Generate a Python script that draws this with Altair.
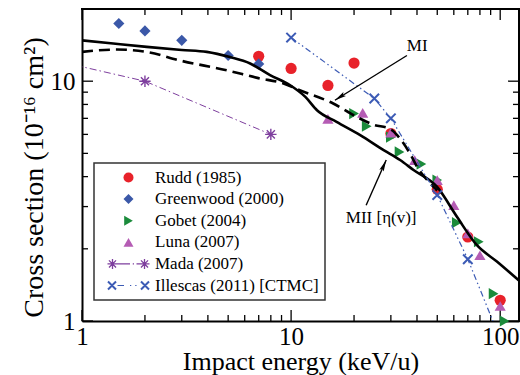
import math
import altair as alt
import pandas as pd

# ---------------- measured cross sections (energy in keV/u, sigma in 1e-16 cm^2)
rudd_e = [7, 10, 15, 20, 30, 50, 70, 100]
rudd_s = [12.7, 11.3, 9.6, 11.9, 6.05, 3.54, 2.24, 1.22]

greenwood_e = [1.5, 2, 3, 5, 7]
greenwood_s = [17.4, 16.2, 14.8, 12.8, 11.8]

gobet_e = [20, 23, 30, 33, 42, 50, 62, 79, 93, 105]
gobet_s = [7.33, 6.49, 5.84, 5.07, 4.51, 3.87, 2.57, 2.14, 1.30, 1.0]

luna_e = [15, 22, 30, 39, 50, 60, 70, 80, 100]
luna_s = [6.96, 7.38, 6.1, 4.69, 3.87, 3.04, 2.32, 1.88, 1.155]

mada_e = [0.5, 2, 8]
mada_s = [13.2, 10.0, 6.0]

illescas_e = [10, 25, 30, 50, 70, 100]
illescas_s = [15.2, 8.47, 7.0, 3.35, 1.81, 0.84]

# ---------------- model curves
mi_e = [1, 1.47, 2.04, 2.94, 4.93, 6.97, 9.2, 11.0, 15.9, 20.6, 24.6, 30, 33, 37, 40, 45, 50]
mi_s = [13.25, 13.55, 13.25, 12.2, 11.1, 10.3, 9.78, 9.17, 8.07, 7.1, 6.6, 6.3, 5.8, 5.0, 4.4, 3.85, 3.5]

mii_e = [1, 1.41, 2.04, 3.0, 3.95, 5.1, 6.37, 7.93, 9.9, 11.7, 13.3, 16.5, 21.4,
         27.7, 33.2, 38.5, 49.8, 62.1, 77.4, 96.4, 124.6]
mii_s = [14.8, 14.35, 13.9, 13.5, 13.25, 12.6, 11.85, 10.6, 9.62, 8.6, 7.57, 6.77, 5.96,
         5.16, 4.69, 4.26, 3.63, 2.72, 2.07, 1.77, 1.46]

# ---------------- legend entries
series_names = ["Rudd (1985)", "Greenwood (2000)", "Gobet (2004)", "Luna (2007)",
                "Mada (2007)", "Illescas (2011) [CTMC]"]
series_colors = ["#e8222a", "#3b58a8", "#1b8b3b", "#b55cb4", "#7e3f9e", "#3c5bb5"]

# ---------------- annotations
labels_text = ["MI", "MII [\u03b7(v)]"]
labels_e = [40.1, 26.96]
labels_s = [14.0, 2.69]
arrow_tail_e = [35.8, 22.85]
arrow_tail_s = [12.8, 3.04]
arrow_head_e = [16.2, 28.5]
arrow_head_s = [8.33, 4.69]

# ---------------- axis tick positions
x_major = [1, 10, 100]
x_minor = [2, 3, 4, 5, 6, 7, 8, 9, 20, 30, 40, 50, 60, 70, 80, 90]
y_major = [1, 10]
y_minor = [2, 3, 4, 5, 6, 7, 8, 9]

SERIF = "Liberation Serif"
W, H = 437, 312
MAJ, MIN = 11, 6
X_DOMAIN = [1, 123]
Y_DOMAIN = [1, 20]


def bar_poly(x0, y0, x1, y1, w):
    dx, dy = x1 - x0, y1 - y0
    n = math.hypot(dx, dy)
    px, py = -dy / n * w, dx / n * w
    pts = [(x0 + px, y0 + py), (x1 + px, y1 + py), (x1 - px, y1 - py), (x0 - px, y0 - py)]
    return "M" + "L".join(f"{a:.3f},{b:.3f}" for a, b in pts) + "Z"


def star_bars(cx, r, w):
    out = ""
    for k in range(4):
        a = math.pi * k / 4
        dx, dy = r * math.cos(a), r * math.sin(a)
        out += bar_poly(cx - dx, -dy, cx + dx, dy, w)
    return out


def cross_bars(cx, r, w):
    return bar_poly(cx - r, -r, cx + r, r, w) + bar_poly(cx - r, r, cx + r, -r, w)


# legend glyphs: marker - line - marker, built from filled thin bars
mada_glyph = (star_bars(-3.2, 1.0, 0.13) + star_bars(3.2, 1.0, 0.13)
              + bar_poly(-2.2, 0, 0.3, 0, 0.11) + bar_poly(0.85, 0, 1.1, 0, 0.11)
              + bar_poly(1.6, 0, 2.2, 0, 0.11))
illescas_glyph = (cross_bars(-3.3, 0.8, 0.2) + cross_bars(3.3, 0.8, 0.2)
                  + bar_poly(-2.2, 0, -0.9, 0, 0.12) + bar_poly(0.3, 0, 0.55, 0, 0.12)
                  + bar_poly(1.35, 0, 1.6, 0, 0.12))
series_shapes = ["circle", "diamond", "triangle-right", "triangle-up", mada_glyph, illescas_glyph]

STAR = "M-1,0L1,0M0,-1L0,1M-0.707,-0.707L0.707,0.707M-0.707,0.707L0.707,-0.707"
XMARK = "M-1,-1L1,1M-1,1L1,-1"
ARROWHEAD = "M0,0L0.45,2.2L0,1.8L-0.45,2.2Z"

xs = alt.Scale(type="log", domain=X_DOMAIN, nice=False)
ys = alt.Scale(type="log", domain=Y_DOMAIN, nice=False)

x_axis = alt.Axis(values=x_major, format="d", ticks=False, grid=False,
                  domain=True, domainColor="black", domainWidth=2,
                  labelFont=SERIF, labelFontSize=25, labelColor="black", labelPadding=3,
                  labelFlush=False, labelOverlap=False,
                  title="Impact energy (keV/u)", titleFont=SERIF, titleFontSize=26,
                  titleFontWeight="normal", titleColor="black",
                  titleX=W / 2, titleY=48.5, titleBaseline="alphabetic", titleAlign="center")
y_axis = alt.Axis(values=y_major, format="d", ticks=False, grid=False,
                  domain=True, domainColor="black", domainWidth=2,
                  labelFont=SERIF, labelFontSize=25, labelColor="black", labelPadding=7,
                  labelFlush=False, labelOverlap=False,
                  title="Cross section  (10\u207b\u00b9\u2076 cm\u00b2)", titleFont=SERIF,
                  titleFontSize=28, titleFontWeight="normal", titleColor="black",
                  titleX=-40, titleY=168, titleAngle=270, titleBaseline="alphabetic",
                  titleAlign="center")


def X(field):
    return alt.X(field, type="quantitative", scale=xs, axis=x_axis)


def Y(field):
    return alt.Y(field, type="quantitative", scale=ys, axis=y_axis)


def frame(e, s, name):
    return pd.DataFrame({"e": e, "s": s, "series": name})


points = pd.concat([
    frame(rudd_e, rudd_s, series_names[0]),
    frame(greenwood_e, greenwood_s, series_names[1]),
    frame(gobet_e, gobet_s, series_names[2]),
    frame(luna_e, luna_s, series_names[3]),
], ignore_index=True)

legend = alt.Legend(orient="none", legendX=12, legendY=154, title=None,
                    labelFont=SERIF, labelFontSize=17, labelColor="black", labelLimit=400,
                    symbolSize=100, symbolOffset=20, labelOffset=18, padding=6,
                    rowPadding=3.6, strokeColor="#333333", fillColor="white",
                    symbolStrokeWidth=0)

point_layer = alt.Chart(points).mark_point(filled=True, size=125, opacity=1).encode(
    x=X("e"), y=Y("s"),
    color=alt.Color("series:N", scale=alt.Scale(domain=series_names, range=series_colors),
                    legend=legend),
    shape=alt.Shape("series:N", scale=alt.Scale(domain=series_names, range=series_shapes),
                    legend=legend),
)

mii_layer = alt.Chart(pd.DataFrame({"e": mii_e, "s": mii_s})).mark_line(
    color="black", strokeWidth=2.6, interpolate="monotone", clip=True
).encode(x=X("e"), y=Y("s"))
mi_layer = alt.Chart(pd.DataFrame({"e": mi_e, "s": mi_s})).mark_line(
    color="black", strokeWidth=2.6, strokeDash=[11, 6], interpolate="monotone", clip=True
).encode(x=X("e"), y=Y("s"))

mada_df = pd.DataFrame({"e": mada_e, "s": mada_s})
mada_line = alt.Chart(mada_df).mark_line(
    color=series_colors[4], strokeWidth=1, strokeDash=[7, 3, 1.5, 3], clip=True
).encode(x=X("e"), y=Y("s"))
mada_pts = alt.Chart(mada_df).mark_point(
    shape=STAR, size=130, filled=False, color=series_colors[4], strokeWidth=1.4,
    opacity=1, clip=True).encode(x=X("e"), y=Y("s"))

ill_df = pd.DataFrame({"e": illescas_e, "s": illescas_s})
ill_line = alt.Chart(ill_df).mark_line(
    color=series_colors[5], strokeWidth=1.2, strokeDash=[6, 3, 1.5, 3, 1.5, 3], clip=True
).encode(x=X("e"), y=Y("s"))
ill_pts = alt.Chart(ill_df).mark_point(
    shape=XMARK, size=90, filled=False, color=series_colors[5], strokeWidth=2,
    opacity=1, clip=True).encode(x=X("e"), y=Y("s"))

arrows = pd.DataFrame({"e": arrow_tail_e, "s": arrow_tail_s,
                       "e2": arrow_head_e, "s2": arrow_head_s})
arrow_shafts = alt.Chart(arrows).mark_rule(color="black", strokeWidth=1.4).encode(
    x=X("e"), y=Y("s"), x2="e2", y2="s2")
heads = []
for i, ang in enumerate([238, 24]):
    heads.append(alt.Chart(pd.DataFrame({"e": [arrow_head_e[i]], "s": [arrow_head_s[i]]}))
                 .mark_point(shape=ARROWHEAD, size=110, filled=True, color="black",
                             opacity=1, angle=ang)
                 .encode(x=X("e"), y=Y("s")))

texts = alt.Chart(pd.DataFrame({"e": labels_e, "s": labels_s, "t": labels_text})).mark_text(
    font=SERIF, fontSize=17, color="black", align="center", baseline="middle"
).encode(x=X("e"), y=Y("s"), text="t:N")

# inward ticks on all four sides
tick_layers = []
for vals, L in [(x_major, MAJ), (x_minor, MIN)]:
    d = pd.DataFrame({"v": vals})
    tick_layers.append(alt.Chart(d).mark_rule(color="black", strokeWidth=1.3).encode(
        x=X("v"), y=alt.value(H), y2=alt.value(H - L)))
    tick_layers.append(alt.Chart(d).mark_rule(color="black", strokeWidth=1.3).encode(
        x=X("v"), y=alt.value(0), y2=alt.value(L)))
for vals, L in [(y_major, MAJ), (y_minor, MIN)]:
    d = pd.DataFrame({"v": vals})
    tick_layers.append(alt.Chart(d).mark_rule(color="black", strokeWidth=1.3).encode(
        y=Y("v"), x=alt.value(0), x2=alt.value(L)))
    tick_layers.append(alt.Chart(d).mark_rule(color="black", strokeWidth=1.3).encode(
        y=Y("v"), x=alt.value(W), x2=alt.value(W - L)))

# plot frame: top and right edges (bottom and left come from the axis domains)
frame_layers = [
    alt.Chart(pd.DataFrame({"v": [X_DOMAIN[1]]})).mark_rule(
        color="black", strokeWidth=2, strokeCap="square").encode(
        x=X("v"), y=alt.value(0), y2=alt.value(H)),
    alt.Chart(pd.DataFrame({"v": [Y_DOMAIN[1]]})).mark_rule(
        color="black", strokeWidth=2, strokeCap="square").encode(
        y=Y("v"), x=alt.value(0), x2=alt.value(W)),
]

chart = alt.layer(
    *tick_layers, point_layer, mi_layer, mii_layer, mada_line, mada_pts,
    ill_line, ill_pts, arrow_shafts, *heads, texts, *frame_layers
).properties(
    width=W, height=H, background="white",
    autosize=alt.AutoSizeParams(type="none"),
    padding={"left": 82, "top": 9, "right": 1, "bottom": 54},
).configure_legend(strokeWidth=1.5)

chart.save("out.html", embed_options={"renderer": "svg", "actions": False})
